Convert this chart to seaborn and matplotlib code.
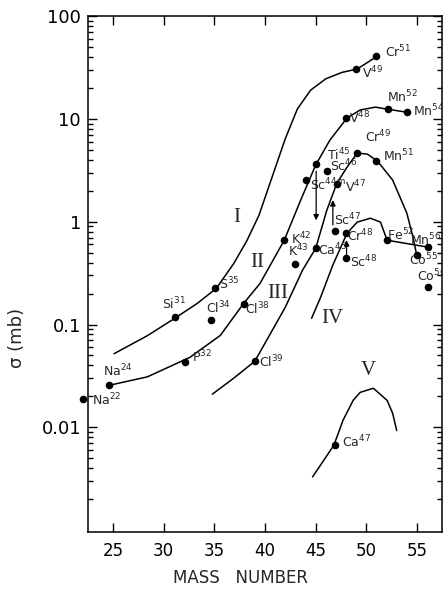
import numpy as np
import pandas as pd
import seaborn as sns
import matplotlib.pyplot as plt
from matplotlib.ticker import FixedLocator, FuncFormatter, LogLocator, NullFormatter

# measured isotopes (mass number, cross section in mb)
isotopes = ['Cr$^{51}$', 'V$^{49}$', 'Mn$^{52}$', 'Mn$^{54}$', 'V$^{48}$', 'Cr$^{49}$', 'Mn$^{51}$',
            'Ti$^{45}$', 'Sc$^{46}$', 'Sc$^{44m}$', 'V$^{47}$', 'Sc$^{47}$', 'Cr$^{48}$', 'K$^{42}$',
            'Ca$^{45}$', 'K$^{43}$', 'Sc$^{48}$', 'Fe$^{52}$', 'Mn$^{56}$', 'Co$^{55}$', 'Co$^{56}$',
            'S$^{35}$', 'Si$^{31}$', 'Cl$^{34}$', 'Cl$^{38}$', 'P$^{32}$', 'Na$^{24}$', 'Na$^{22}$',
            'Cl$^{39}$', 'Ca$^{47}$']
mass = [51.0, 49.0, 52.1, 54.0, 48.0, 49.1, 51.0,
        45.0, 46.1, 44.0, 47.1, 46.9, 48.0, 41.9,
        45.0, 43.0, 48.0, 52.0, 56.1, 55.0, 56.1,
        35.1, 31.1, 34.7, 37.9, 32.1, 24.6, 22.04,
        39.0, 46.9]
sigma = [40.8, 30.5, 12.4, 11.6, 10.2, 4.65, 3.9,
         3.6, 3.1, 2.53, 2.35, 0.81, 0.77, 0.67,
         0.55, 0.385, 0.44, 0.66, 0.565, 0.47, 0.23,
         0.225, 0.117, 0.11, 0.158, 0.043, 0.0257, 0.019,
         0.044, 0.0067]

# hand drawn curves I - V
curve_I_m = [25.1, 28.4, 31.1, 33.3, 35.2, 36.9, 38.2, 39.4, 40.8, 42.0, 43.2, 44.5, 46.0, 47.6, 49.1, 51.1]
curve_I_s = [0.052, 0.078, 0.115, 0.16, 0.225, 0.39, 0.65, 1.15, 2.9, 6.4, 12.5, 19.0, 24.5, 28.3, 30.5, 40.8]
curve_II_m = [24.6, 28.4, 32.6, 35.6, 37.9, 39.5, 41.9, 43.5, 45.0, 46.4, 48.1, 49.4, 50.9, 52.1, 54.0]
curve_II_s = [0.0256, 0.031, 0.048, 0.0785, 0.161, 0.25, 0.66, 1.6, 3.55, 6.2, 10.2, 12.2, 13.0, 12.4, 11.6]
curve_III_m = [34.8, 36.9, 39.0, 42.0, 43.7, 45.0, 46.1, 47.1, 48.1, 49.1, 50.1, 51.1, 52.6, 54.0, 54.6, 55.0]
curve_III_s = [0.021, 0.030, 0.044, 0.147, 0.337, 0.55, 1.29, 2.37, 3.39, 4.65, 4.54, 3.88, 2.54, 1.21, 0.71, 0.46]
curve_IV_m = [44.6, 45.5, 46.7, 48.1, 49.1, 50.4, 51.4, 52.05, 56.1]
curve_IV_s = [0.115, 0.185, 0.38, 0.773, 0.99, 1.08, 0.99, 0.66, 0.565]
curve_V_m = [44.7, 46.8, 47.7, 48.7, 49.4, 50.7, 52.05, 52.6, 53.0]
curve_V_s = [0.0033, 0.0067, 0.0117, 0.0183, 0.0219, 0.024, 0.0183, 0.0137, 0.0093]

curve_names = ['I', 'II', 'III', 'IV', 'V']
curve_label_m = [37.2, 39.2, 41.3, 46.6, 50.2]
curve_label_s = [1.1, 0.40, 0.20, 0.115, 0.036]

# limit arrows (tail -> head)
arrow_m = [45.05, 46.7, 48.05]
arrow_tail = [3.1, 0.93, 0.47]
arrow_head = [1.03, 1.62, 0.66]

# label offsets in points (right, up)
offsets = [(6.5, 3), (4.3, -3), (-0.7, 8.6), (4.3, 0.7), (2.2, 0), (5.8, 11.5), (5, 3.6),
           (8, 6.5), (2.2, 3.6), (2.9, -3.6), (5.8, -2.2), (-0.7, 8), (0.7, -2.2), (5, 0.7),
           (1.4, -1.4), (-5, 9.4), (2.9, -2.9), (0, 3.6), (-13, 5), (-5.8, -3.6), (-8, 8),
           (2.9, 2.9), (-9.4, 10), (-3.6, 8.6), (0.7, -3.6), (5, 3.6), (-4.3, 10), (6.5, -0.7),
           (2.9, -0.7), (5, 2.2)]

sns.set_style('ticks')
plt.rcParams['font.family'] = ['DejaVu Sans']
plt.rcParams['mathtext.default'] = 'regular'

fig = plt.figure(figsize=(4.43, 5.90), dpi=100)
ax = fig.add_axes([88 / 443, 1 - 532 / 590, 354 / 443, 516 / 590])

curves = [(curve_I_m, curve_I_s), (curve_II_m, curve_II_s), (curve_III_m, curve_III_s),
          (curve_IV_m, curve_IV_s), (curve_V_m, curve_V_s)]
for cm, cs in curves:
    df_c = pd.DataFrame({'mass': cm, 'sigma': cs})
    sns.lineplot(data=df_c, x='mass', y='sigma', sort=False, estimator=None,
                 color='black', linewidth=1.1, ax=ax)

df = pd.DataFrame({'mass': mass, 'sigma': sigma, 'iso': isotopes})
sns.scatterplot(data=df, x='mass', y='sigma', color='black', s=30, linewidth=0,
                zorder=3, clip_on=False, ax=ax)

for lab, m, s, off in zip(isotopes, mass, sigma, offsets):
    ax.annotate(lab, (m, s), xytext=off, textcoords='offset points',
                ha='left', va='center', fontsize=9, annotation_clip=False)

for m, t, h in zip(arrow_m, arrow_tail, arrow_head):
    ax.annotate('', xy=(m, h), xytext=(m, t),
                arrowprops=dict(arrowstyle='-|>', color='black', lw=0.9, mutation_scale=8,
                                shrinkA=0, shrinkB=0))

for name, m, s in zip(curve_names, curve_label_m, curve_label_s):
    ax.text(m, s, name, family='Liberation Serif', fontsize=15, ha='center', va='center')

ax.set_yscale('log')
ax.set_xlim(22.53, 57.47)
ax.set_ylim(0.00096, 100)
ax.xaxis.set_major_locator(FixedLocator([25, 30, 35, 40, 45, 50, 55]))
ax.yaxis.set_major_locator(FixedLocator([0.01, 0.1, 1, 10, 100]))
ax.yaxis.set_major_formatter(FuncFormatter(lambda v, p: f'{v:g}'))
ax.yaxis.set_minor_locator(LogLocator(base=10, subs=np.arange(2, 10)))
ax.yaxis.set_minor_formatter(NullFormatter())

ax.tick_params(which='both', direction='in', top=True, right=True, width=1.0, colors='black')
ax.tick_params(which='major', length=6.5, pad=5)
ax.tick_params(which='minor', length=3.5)
ax.tick_params(axis='x', labelsize=12, pad=7)
ax.tick_params(axis='y', labelsize=13)
for sp in ax.spines.values():
    sp.set_linewidth(1.1)
    sp.set_color('black')

ax.set_xlabel('MASS   NUMBER', fontsize=12, va='center')
ax.set_ylabel('σ (mb)', fontsize=13, va='center')
ax.xaxis.set_label_coords(0.43, -0.09)
ax.yaxis.set_label_coords(-0.2, 0.376)

fig.savefig('out.png', dpi=100)
